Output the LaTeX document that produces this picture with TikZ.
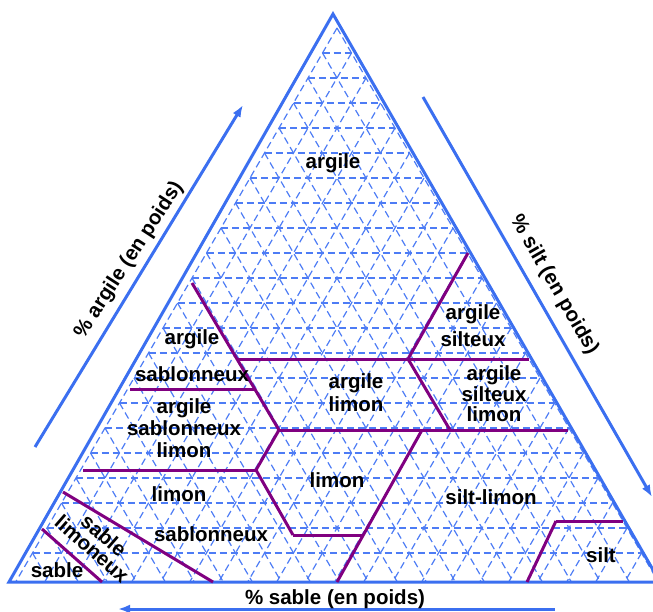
\documentclass[tikz,border=0pt]{standalone}
\usepackage{fontspec}
\setmainfont{Liberation Sans}
\usetikzlibrary{arrows.meta}
\definecolor{bleu}{RGB}{59,111,240}
\definecolor{bleutrame}{RGB}{77,124,245}
\definecolor{frontiere}{RGB}{128,0,128}
\tikzset{
  zone/.style={font=\bfseries\fontsize{20.5}{22}\selectfont, inner sep=0pt, align=center},
  limite/.style={draw=frontiere, line width=3pt},
  bord/.style={draw=bleu, line width=3pt},
  trame/.style={draw=bleutrame, line width=1.2pt, dash pattern=on 7pt off 4pt},
  fleche/.style={draw=bleu, line width=3pt, -{Latex[length=12pt,width=9pt]}},
}
\begin{document}
\begin{tikzpicture}[x=1pt,y=-1pt]
\useasboundingbox (0,0) rectangle (653,612);
\coordinate (A) at (9,582);
\coordinate (B) at (660,582);
\coordinate (C) at (333,14);
% trame triangulaire
\begin{scope}
\clip (A) -- (B) -- (C) -- cycle;
\foreach \r in {1,...,21}
  \path[trame] ({337-14.5*\r},{28+25*\r}) -- ({337+14.5*\r},{28+25*\r});
\foreach \r in {0,...,21} {
  \path[trame] ({337-14.5*\r},{28+25*\r}) -- ++({0.58*(554-25*\r)},{554-25*\r});
  \path[trame] ({337+14.5*\r},{28+25*\r}) -- ++({-0.58*(554-25*\r)},{554-25*\r});
}
\end{scope}
\path[bord] (A) -- (B) -- (C) -- cycle;
% limites des classes
\coordinate (1) at (192,283);
\coordinate (2) at (279,430);
\coordinate (3) at (130,389);
\coordinate (4) at (255,389);
\coordinate (5) at (237,359);
\coordinate (6) at (529,359);
\coordinate (7) at (468,253);
\coordinate (8) at (408,359);
\coordinate (9) at (450,430);
\coordinate (10) at (568,430);
\coordinate (11) at (256,470);
\coordinate (12) at (83,470);
\coordinate (13) at (293,535);
\coordinate (14) at (363,535);
\coordinate (15) at (422,430);
\coordinate (16) at (337,582);
\coordinate (17) at (63,492);
\coordinate (18) at (213,582);
\coordinate (19) at (42,529);
\coordinate (20) at (102,582);
\coordinate (21) at (527,582);
\coordinate (22) at (556,521);
\coordinate (23) at (623,521);
\path[limite] (1) -- (2);
\path[limite] (3) -- (4);
\path[limite] (5) -- (6);
\path[limite] (7) -- (8);
\path[limite] (8) -- (9);
\path[limite] (2) -- (10);
\path[limite] (2) -- (11);
\path[limite] (12) -- (11);
\path[limite] (11) -- (13);
\path[limite] (13) -- (14);
\path[limite] (15) -- (16);
\path[limite] (17) -- (18);
\path[limite] (19) -- (20);
\path[limite] (21) -- (22);
\path[limite] (22) -- (23);
% classes
\node[zone] (argile) at (333,163) {argile};
\node[zone] (argsab) at (192,356) {argile\\[15pt]sablonneux};
\node[zone] (argsablim) at (184,428) {argile\\sablonneux\\limon};
\node[zone] (arglim) at (356,393) {argile\\[1pt]limon};
\node[zone] (argsil) at (473,326) {argile\\[5pt]silteux};
\node[zone] (argsillim) at (494,394) {argile\\[-1.5pt]silteux\\[-1.5pt]limon};
\node[zone] (limon) at (337,480) {limon};
\node[zone] (siltlim) at (491,497) {silt-limon};
\node[zone] (silt) at (601,555) {silt};
\node[zone] (limsab) at (179,494) {limon};
\node[zone] (sablon) at (211,534) {sablonneux};
\node[zone] (sable) at (57,570) {sable};
\node[zone, rotate=-41] (sablim) at (98,542) {sable\\[-4pt]limoneux};
% axes
\coordinate (a1) at (35,447);
\coordinate (a2) at (243,105);
\coordinate (s1) at (423,97);
\coordinate (s2) at (652,497);
\coordinate (b1) at (555,609);
\coordinate (b2) at (118,609);
\path[fleche] (a1) -- (a2);
\path[fleche] (s1) -- (s2);
\path[fleche] (b1) -- (b2);
\node[zone, rotate=57] (axargile) at (129,260) {\% argile (en poids)};
\node[zone, rotate=-60] (axsilt) at (554,285) {\% silt (en poids)};
\node[zone] (axsable) at (335,599) {\% sable (en poids)};
\end{tikzpicture}
\end{document}
